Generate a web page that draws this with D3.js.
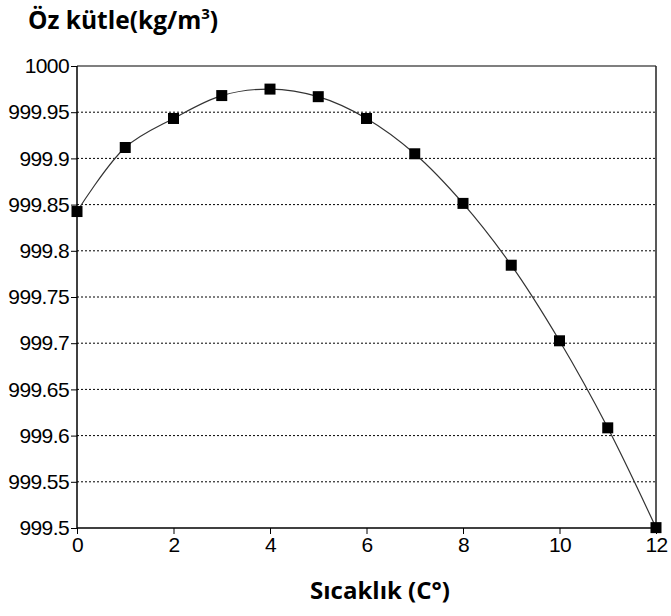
<!DOCTYPE html>
<html>
<head>
<meta charset="utf-8">
<script src="https://cdn.jsdelivr.net/npm/d3@7"></script>
<style>
  body { margin: 0; background: #fff; }
  svg { display: block; }
</style>
</head>
<body>
<svg width="671" height="616"></svg>
<script>
const temps = [0, 1, 2, 3, 4, 5, 6, 7, 8, 9, 10, 11, 12];
const density = [999.8425, 999.9118, 999.9432, 999.9680, 999.9750, 999.9668, 999.9432, 999.9050, 999.8513, 999.7844, 999.7026, 999.6084, 999.5004];
const xTicks = [0, 2, 4, 6, 8, 10, 12];
const yTicks = [999.5, 999.55, 999.6, 999.65, 999.7, 999.75, 999.8, 999.85, 999.9, 999.95, 1000];

const margin = { top: 66, left: 77, right: 15, bottom: 88 };
const width = 671 - margin.left - margin.right;
const height = 616 - margin.top - margin.bottom;

const svg = d3.select("svg");
const g = svg.append("g")
    .attr("transform", `translate(${margin.left}, ${margin.top})`);

const x = d3.scaleLinear().domain([0, 12]).range([0, width]);
const y = d3.scaleLinear().domain([999.5, 1000]).range([height, 0]);

// dotted grid
g.selectAll(".grid")
    .data(yTicks.filter(d => d > 999.5 && d < 1000))
    .enter().append("line")
    .attr("x1", 0).attr("x2", width)
    .attr("y1", d => y(d)).attr("y2", d => y(d))
    .attr("stroke", "#000")
    .attr("stroke-width", 1)
    .attr("stroke-dasharray", "2,2");

// top and right border
g.append("line").attr("x1", 0).attr("x2", width).attr("y1", 0).attr("y2", 0)
    .attr("stroke", "#555").attr("stroke-width", 1.5);
g.append("line").attr("x1", width).attr("x2", width).attr("y1", 0).attr("y2", height)
    .attr("stroke", "#222").attr("stroke-width", 1.5);

const yAxis = g.append("g")
    .call(d3.axisLeft(y).tickValues(yTicks).tickSize(6).tickPadding(2)
        .tickFormat(d => d3.format("")(+d.toFixed(2))));
const xAxis = g.append("g")
    .attr("transform", `translate(0, ${height})`)
    .call(d3.axisBottom(x).tickValues(xTicks).tickSize(6).tickPadding(3));

[yAxis, xAxis].forEach(a => {
    a.select(".domain").attr("stroke", "#000").attr("stroke-width", 1.5);
    a.selectAll(".tick line").attr("stroke", "#000");
    a.selectAll("text")
        .attr("fill", "#000")
        .style("font-family", "'Liberation Sans', Arial, sans-serif")
        .style("font-size", "21px")
        .style("letter-spacing", "-0.6px");
});
yAxis.select(".domain").attr("d", `M0,0V${height}`);
xAxis.select(".domain").attr("d", `M0,0H${width}`);

const line = d3.line()
    .x((d, i) => x(temps[i]))
    .y(d => y(d))
    .curve(d3.curveCatmullRom);

g.append("path")
    .datum(density)
    .attr("d", line)
    .attr("fill", "none")
    .attr("stroke", "#333")
    .attr("stroke-width", 1.2);

g.selectAll(".pt")
    .data(density)
    .enter().append("rect")
    .attr("x", (d, i) => x(temps[i]) - 5.5)
    .attr("y", d => y(d) - 5.5)
    .attr("width", 11)
    .attr("height", 11)
    .attr("fill", "#000");

const title = svg.append("text")
    .attr("x", 28).attr("y", 29)
    .style("font-family", "'Open Sans', sans-serif")
    .style("font-weight", "bold")
    .style("font-size", "24.5px")
    .attr("fill", "#000");
title.append("tspan").text("Öz kütle(kg/m");
title.append("tspan").attr("dy", -10).style("font-size", "15px").text("3");
title.append("tspan").attr("dy", 10).text(")");

svg.append("text")
    .attr("x", 380).attr("y", 599)
    .attr("text-anchor", "middle")
    .style("font-family", "'Open Sans', sans-serif")
    .style("font-weight", "bold")
    .style("font-size", "24px")
    .attr("fill", "#000")
    .text("Sıcaklık (C°)");
</script>
</body>
</html>
